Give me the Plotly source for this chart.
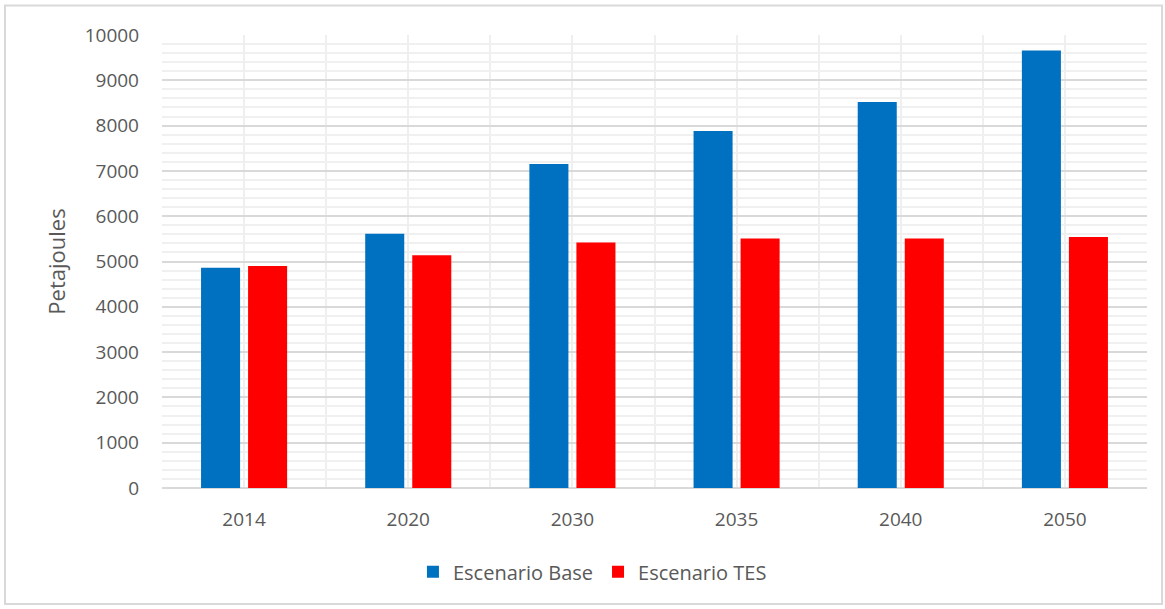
import plotly.graph_objects as go

years = ["2014", "2020", "2030", "2035", "2040", "2050"]
base = [4860, 5610, 7150, 7880, 8520, 9660]
tes = [4900, 5140, 5420, 5510, 5510, 5540]

xpos = list(range(len(years)))
font_family = "Open Sans, Segoe UI, sans-serif"
txt = "#595959"

fig = go.Figure()
fig.add_bar(x=xpos, y=base, name="Escenario Base", marker=dict(color="#0070C0", line=dict(width=0)))
fig.add_bar(x=xpos, y=tes, name="Escenario TES", marker=dict(color="#FF0000", line=dict(width=0)))

fig.update_layout(
    width=1165, height=609,
    margin=dict(l=162, r=18, t=35, b=121),
    paper_bgcolor="white", plot_bgcolor="white",
    barmode="group", bargap=0.427, bargroupgap=0.17,
    font=dict(family=font_family, color=txt, size=18),
    legend=dict(orientation="h", x=0.437, y=-0.185, xanchor="center", yanchor="middle",
                font=dict(size=20, color=txt), itemsizing="constant", traceorder="normal",
                itemwidth=30),
    showlegend=True,
)
fig.update_xaxes(
    range=[-0.5, 5.5], tickmode="array", tickvals=xpos, ticktext=years,
    showgrid=True, gridcolor="#efefef", gridwidth=2,
    minor=dict(tickmode="array", tickvals=[i - 0.5 for i in range(len(years) + 1)],
               showgrid=True, gridcolor="#efefef", gridwidth=2),
    showline=False, zeroline=False, ticks="", ticklabelstandoff=18,
    tickfont=dict(size=19, color=txt),
)
fig.update_yaxes(
    range=[0, 10000], tick0=0, dtick=1000, tickformat="d",
    showgrid=True, gridcolor="#d9d9d9", gridwidth=2,
    minor=dict(dtick=200, showgrid=True, gridcolor="#f0f0f0", gridwidth=2),
    zeroline=True, zerolinecolor="#d9d9d9", zerolinewidth=2,
    ticks="", ticklabelstandoff=22,
    title=dict(text="Petajoules", font=dict(size=22, color=txt), standoff=12),
    tickfont=dict(size=19, color=txt),
)
fig.add_shape(type="rect", xref="paper", yref="paper",
              x0=(5 - 162) / 985, x1=(1162 - 162) / 985,
              y0=(488 - 604) / 453, y1=(488 - 5.5) / 453,
              line=dict(color="#d9d9d9", width=2), fillcolor="rgba(0,0,0,0)", layer="below")
fig.write_html("out.html")
